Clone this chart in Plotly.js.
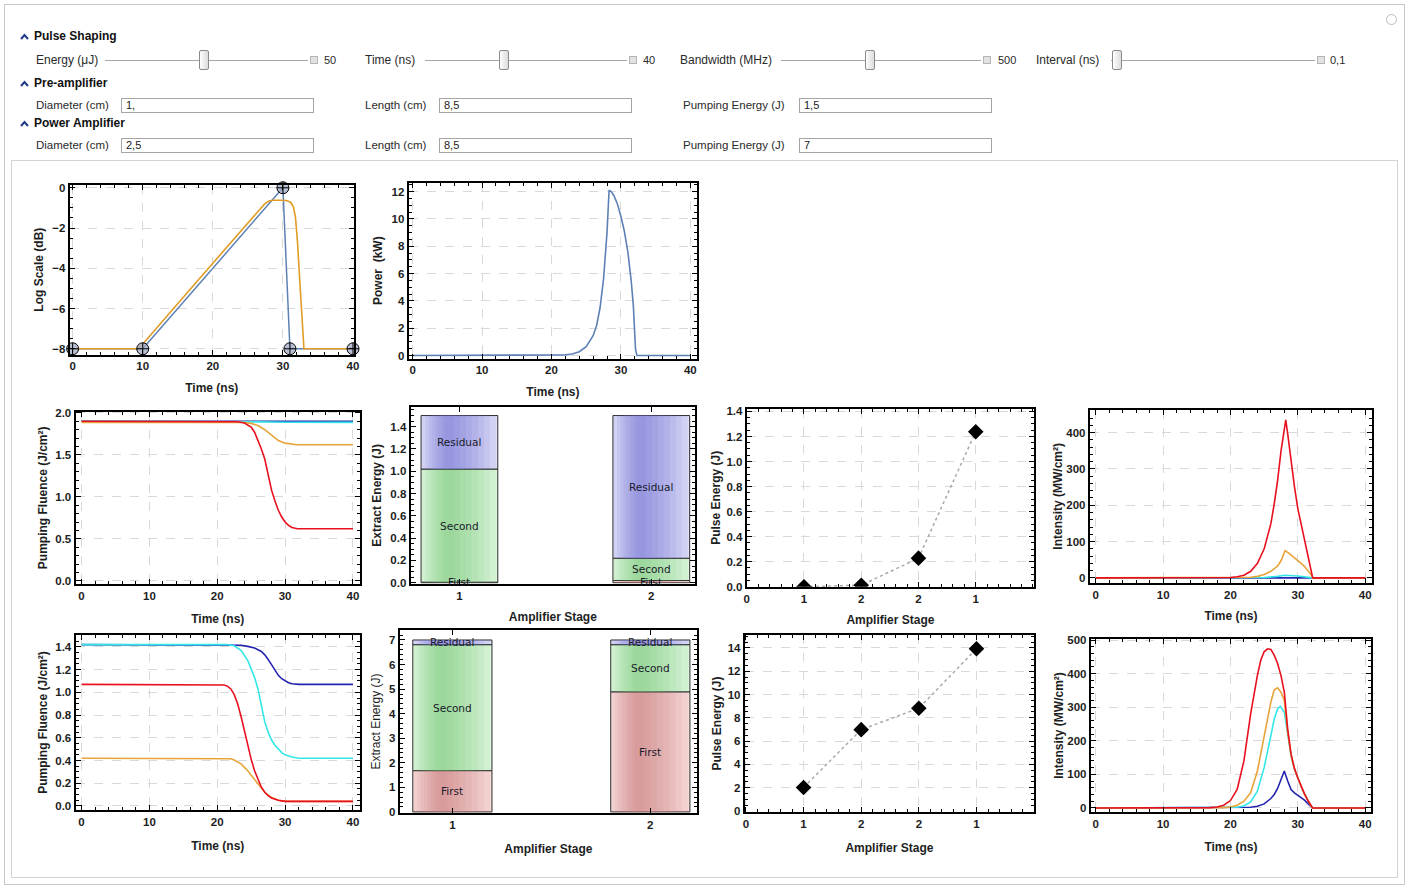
<!DOCTYPE html>
<html><head><meta charset="utf-8">
<script src="https://cdn.plot.ly/plotly-3.0.1.min.js"></script>
<style>
body{margin:0;background:#fff;width:1409px;height:889px;overflow:hidden;position:relative;font-family:"Liberation Sans",Arial,sans-serif;}
#chart{position:absolute;left:0;top:0;width:1409px;height:889px;z-index:1;}
.frame{position:absolute;border:1px solid #c9c9c9;z-index:0;}
.ui{position:absolute;font-size:12px;color:#2a2a2a;white-space:nowrap;line-height:14px;z-index:2;}
.hd{font-weight:bold;color:#111;}
.track{position:absolute;height:1px;background:#a8a8a8;z-index:2;}
.thumb{position:absolute;width:8px;height:18px;border:1px solid #8a8a8a;border-radius:2px;background:linear-gradient(90deg,#fdfdfd,#dcdcdc);z-index:3;}
.sq{position:absolute;width:6px;height:6px;border:1px solid #b5b5b5;background:#e2e2e2;z-index:2;}
.inp{position:absolute;height:13px;border:1px solid #a5a5a5;background:#fff;font-size:11px;line-height:13px;padding-left:4px;color:#222;z-index:2;}
.chev{position:absolute;z-index:2;}
</style></head>
<body>
<div class="frame" style="left:4px;top:4px;width:1399px;height:879px;"></div>
<div class="frame" style="left:11px;top:160px;width:1385px;height:716px;border-color:#d4d4d4"></div>
<div id="chart"></div>
<div id="controls"></div>
<script>
// ---------------- DATA ----------------
// Pulse shaping: control points (dB) and smoothed shape
const shapeTime = [0, 10, 30, 31, 40];
const shapeDb = [-8, -8, 0, -8, -8];
const smoothTime = [0, 9.3, 9.8, 12, 16, 20, 24, 27.4, 28, 28.6, 29.5, 30.5, 31.1, 31.5, 31.8, 32.1, 32.4, 32.7, 33.0, 40];
const smoothDb = [-8, -8, -7.85, -6.95, -5.35, -3.75, -2.15, -0.8, -0.66, -0.62, -0.62, -0.63, -0.72, -0.95, -1.5, -2.8, -4.6, -6.6, -8, -8];
// Input pulse power (kW)
const powerTime = [0, 20, 22, 23, 24, 25, 26, 26.5, 27, 27.5, 28, 28.3, 28.6, 29, 29.5, 30, 30.5, 31, 31.5, 31.8, 32.1, 32.3, 40];
const powerKW = [0, 0.01, 0.05, 0.12, 0.28, 0.65, 1.45, 2.2, 3.5, 5.6, 9.0, 12.1, 12.0, 11.7, 11.1, 10.2, 9.1, 7.6, 5.4, 3.6, 0.5, 0, 0];

// Pre-amplifier pumping fluence (J/cm2)
const preFluBlueT = [0, 40];
const preFluBlue = [1.9, 1.9];
const preFluCyanT = [0, 22, 26, 30, 32, 40];
const preFluCyan = [1.9, 1.9, 1.893, 1.888, 1.887, 1.887];
const preFluOrangeT = [0, 24, 25, 26, 27, 28, 29, 30, 31, 31.7, 40];
const preFluOrange = [1.885, 1.885, 1.875, 1.85, 1.8, 1.73, 1.67, 1.64, 1.625, 1.62, 1.62];
const preFluRedT = [0, 22, 23, 24, 25, 25.5, 26, 26.5, 27, 27.5, 28, 28.5, 29, 29.5, 30, 30.5, 31, 31.8, 40];
const preFluRed = [1.9, 1.9, 1.895, 1.88, 1.83, 1.77, 1.68, 1.57, 1.45, 1.27, 1.08, 0.95, 0.84, 0.76, 0.7, 0.66, 0.635, 0.62, 0.62];

// Stage energy partition (J)
const stageIds = [1, 2];
const stageTicks = ['1', '2'];
const segNames = ['First', 'Second', 'Residual'];
const preFirst = [0.005, 0.02];
const preSecond = [1.015, 0.2];
const preResidual = [0.48, 1.28];
const powFirst = [1.68, 4.89];
const powSecond = [5.13, 1.92];
const powResidual = [0.19, 0.19];

// Pulse energy after each pass (J)
const passIdx = [1, 2, 3, 4];
const passTickVals = [0, 1, 2, 3, 4];
const passTickText = ['0', '1', '2', '2', '1'];
const prePulseEnergy = [0.0, 0.012, 0.228, 1.238];
const powPulseEnergy = [2.02, 6.98, 8.82, 13.93];

// Pre-amplifier intensity (MW/cm2)
const preIntBlueT = [0, 22, 25, 27, 28, 30, 32, 32.2, 40];
const preIntBlue = [0, 0, 0.2, 0.8, 1.5, 1.0, 0.4, 0, 0];
const preIntCyanT = [0, 22, 25, 27, 28, 30, 32, 32.2, 40];
const preIntCyan = [0, 0, 1, 4, 7, 5, 2, 0, 0];
const preIntOrangeT = [0, 20, 22, 23, 24, 25, 26, 27, 27.5, 28, 28.1, 28.5, 29, 29.5, 30, 30.5, 31, 31.5, 32, 32.2, 40];
const preIntOrange = [0, 0, 0.5, 1.5, 4, 9, 18, 33, 47, 70, 75, 70, 63, 56, 48, 40, 31, 20, 8, 0, 0];
const preIntRedT = [0, 19, 20, 21, 22, 23, 24, 25, 26, 26.5, 27, 27.5, 28, 28.2, 28.5, 29, 29.5, 30, 30.5, 31, 31.5, 32, 32.2, 40];
const preIntRed = [0, 0, 1, 3, 7, 18, 40, 80, 150, 205, 270, 350, 420, 435, 395, 320, 250, 190, 145, 100, 60, 15, 0, 0];

// Power amplifier pumping fluence (J/cm2)
const powFluBlueT = [0, 22, 23.5, 24.5, 25.5, 26.5, 27, 27.5, 28, 28.5, 29, 29.5, 30, 30.5, 31, 32, 40];
const powFluBlue = [1.42, 1.42, 1.415, 1.405, 1.39, 1.36, 1.33, 1.29, 1.24, 1.19, 1.15, 1.12, 1.1, 1.085, 1.075, 1.07, 1.07];
const powFluCyanT = [0, 21.5, 22.5, 23.5, 24.5, 25, 25.5, 26, 26.5, 27, 27.5, 28, 28.5, 29, 29.5, 30, 31, 32, 40];
const powFluCyan = [1.42, 1.42, 1.41, 1.37, 1.28, 1.21, 1.13, 1.03, 0.88, 0.74, 0.65, 0.58, 0.535, 0.5, 0.47, 0.45, 0.43, 0.42, 0.42];
const powFluOrangeT = [0, 21, 22, 22.5, 23, 23.5, 24, 24.5, 25, 25.5, 26, 26.5, 27, 27.5, 28, 29, 30, 40];
const powFluOrange = [0.42, 0.42, 0.415, 0.405, 0.39, 0.37, 0.34, 0.31, 0.27, 0.23, 0.19, 0.15, 0.12, 0.095, 0.075, 0.05, 0.04, 0.04];
const powFluRedT = [0, 20, 21, 21.5, 22, 22.5, 23, 23.5, 24, 24.5, 25, 25.5, 26, 26.5, 27, 27.5, 28, 29, 30, 40];
const powFluRed = [1.07, 1.07, 1.065, 1.055, 1.03, 0.98, 0.9, 0.79, 0.66, 0.53, 0.41, 0.31, 0.23, 0.165, 0.12, 0.09, 0.07, 0.05, 0.04, 0.04];

// Power amplifier intensity (MW/cm2)
const powIntBlueT = [0, 20, 21, 22, 23, 24, 25, 26, 26.5, 27, 27.5, 28, 28.5, 29, 29.5, 30, 30.5, 31, 31.5, 32, 32.2, 40];
const powIntBlue = [0, 0, 0.5, 1, 2, 5, 12, 28, 40, 58, 82, 110, 80, 55, 45, 38, 31, 23, 13, 4, 0, 0];
const powIntCyanT = [0, 20, 21, 22, 23, 24, 25, 26, 26.5, 27, 27.4, 28, 28.5, 29, 29.5, 30, 30.5, 31, 31.5, 32, 32.2, 40];
const powIntCyan = [0, 0.5, 2, 6, 18, 50, 120, 215, 265, 295, 303, 285, 215, 155, 116, 88, 63, 41, 21, 5, 0, 0];
const powIntOrangeT = [0, 18, 19, 20, 21, 22, 23, 24, 25, 25.5, 26, 26.5, 27, 27.5, 28, 28.5, 29, 29.5, 30, 30.5, 31, 31.5, 32, 32.2, 40];
const powIntOrange = [0, 0, 1, 3, 8, 20, 45, 110, 210, 260, 315, 352, 358, 345, 320, 225, 158, 116, 88, 63, 41, 21, 5, 0, 0];
const powIntRedT = [0, 16, 17, 18, 19, 20, 21, 22, 23, 24, 24.5, 25, 25.5, 26, 26.5, 27, 27.5, 28, 28.5, 29, 29.5, 30, 30.5, 31, 31.5, 32, 32.2, 40];
const powIntRed = [0, 0, 1, 3, 8, 22, 55, 140, 280, 395, 440, 465, 474, 472, 455, 430, 395, 345, 235, 160, 118, 90, 65, 42, 22, 5, 0, 0];

// ---------------- CONTROLS (UI text) ----------------
const sections = [['Pulse Shaping', 24, 36], ['Pre-amplifier', 24, 83], ['Power Amplifier', 24, 123]];
const sliderLabels = ['Energy (\u03bcJ)', 'Time (ns)', 'Bandwidth (MHz)', 'Interval (ns)'];
const sliderValues = ['50', '40', '500', '0,1'];
const fieldLabels = ['Diameter (cm)', 'Length (cm)', 'Pumping Energy (J)'];
const preFieldValues = ['1,', '8,5', '1,5'];
const powFieldValues = ['2,5', '8,5', '7'];

(function buildControls(){
  const c = document.getElementById('controls');
  let h = '';
  sections.forEach(s => {
    h += `<svg class="chev" style="left:${s[1]-4}px;top:${s[2]-3}px" width="9" height="7"><polyline points="1,6 4.5,2 8,6" fill="none" stroke="#1f3c86" stroke-width="2"/></svg>`;
    h += `<div class="ui hd" style="left:${s[1]+10}px;top:${s[2]-7}px">${s[0]}</div>`;
  });
  const sl = [[36,105,204,314,324],[365,425,504,633,643],[680,781,870,987,998],[1036,1111,1117,1321,1330]];
  sl.forEach((p,i) => {
    h += `<div class="ui" style="left:${p[0]}px;top:53px">${sliderLabels[i]}</div>`;
    h += `<div class="track" style="left:${p[1]}px;top:60px;width:${p[3]-p[1]-6}px"></div>`;
    h += `<div class="thumb" style="left:${p[2]-5}px;top:50px"></div>`;
    h += `<div class="sq" style="left:${p[3]-4}px;top:56px"></div>`;
    h += `<div class="ui" style="left:${p[4]}px;top:53px;font-size:11px">${sliderValues[i]}</div>`;
  });
  const fl = [[36,121],[365,439],[683,799]];
  [[preFieldValues,98],[powFieldValues,138]].forEach(r => {
    fl.forEach((p,i) => {
      h += `<div class="ui" style="left:${p[0]}px;top:${r[1]}px;font-size:11.5px">${fieldLabels[i]}</div>`;
      h += `<div class="inp" style="left:${p[1]}px;top:${r[1]}px;width:187px">${r[0][i]}</div>`;
    });
  });
  h += `<div style="position:absolute;left:1386px;top:14px;width:9px;height:9px;border:1px solid #bbb;border-radius:50%;z-index:2;"></div>`;
  c.innerHTML = h;
})();

// ---------------- CHART ----------------
const W = 1409, H = 889;
const C_BLUE = '#5e81b5', C_ORANGE = '#e19c24';
const K_BLUE = '#2424b0', K_CYAN = '#35e6e6', K_ORANGE = '#e6a43a', K_RED = '#e8101e';
// segment colours: light base and darker shading stripe
const SEG_BASE = ['#f8dcdc', '#dcf5dc', '#dedef7'];
const SEG_SHADE = ['rgba(200,115,115,0.11)', 'rgba(115,200,115,0.11)', 'rgba(115,115,210,0.12)'];
const SHADE_STEPS = [1, 0.875, 0.75, 0.625, 0.5, 0.375, 0.25, 0.125];

const boxes = {1:[67,353,182,354],2:[408,698,180,358],3:[73,359,412,586],4:[410,696,407,586],5:[748,1037,409,589],
  6:[1093,1377,410,585],7:[73,359,638,815],8:[399,698,633,818],9:[746,1037,638,817],10:[1094,1376,642,817]};

const tickFont = {family:'Liberation Sans, Arial, sans-serif', size:11.5, color:'#1e1e1e', weight:'bold'};
function ttl(text, weight, standoff){
  return {text:text, standoff:standoff, font:{family:'Liberation Sans, Arial, sans-serif', size:12, color:'#1e1e1e', weight:weight||'bold'}};
}
function axis(extra){
  return Object.assign({showline:true, mirror:'allticks', linecolor:'#000', linewidth:2, ticks:'inside', ticklen:5,
    tickwidth:1, tickcolor:'#000', tickfont:tickFont, zeroline:false, showgrid:true, gridcolor:'#d9d9d9',
    griddash:'dash', gridwidth:1, fixedrange:true, automargin:true}, extra);
}
const layout = {width:W, height:H, margin:{l:0,r:0,t:0,b:0}, paper_bgcolor:'rgba(0,0,0,0)', plot_bgcolor:'#fff',
  showlegend:false, barmode:'overlay', hovermode:false, annotations:[],
  font:{family:'Liberation Sans, Arial, sans-serif'}};

const minorT = (d) => ({dtick:d, ticks:'inside', ticklen:3, tickcolor:'#000'});
function place(n, xo, yo){
  const b = boxes[n];
  const xs = n===1?'':n;
  layout['xaxis'+xs] = axis(Object.assign({domain:[b[0]/W, b[1]/W], anchor:'y'+xs}, xo));
  layout['yaxis'+xs] = axis(Object.assign({domain:[1-b[3]/H, 1-b[2]/H], anchor:'x'+xs}, yo));
}
const timeX = (r, so) => ({range:r, tick0:0, dtick:10, minor:minorT(2), title:ttl('Time (ns)','bold',so)});
place(1, timeX([-0.43,40.14],12), {range:[-8.29,0.15], tick0:0, dtick:2, minor:minorT(0.5), title:ttl('Log Scale (dB)','bold',6)});
place(2, timeX([-0.57,40.97],12), {range:[-0.22,12.65], tick0:0, dtick:2, minor:minorT(0.5), title:ttl('Power  (kW)','bold',6)});
place(3, timeX([-0.88,41.03],14), {range:[-0.035,2.012], tick0:0, dtick:0.5, tickformat:'.1f', minor:minorT(0.1), title:ttl('Pumping Fluence (J/cm\u00b2)','bold',5)});
place(4, {range:[0.746,2.228], tickvals:stageIds, ticktext:stageTicks, showgrid:false, title:ttl('Amplifier Stage','bold',12)},
  {range:[-0.009,1.577], tick0:0, dtick:0.2, tickformat:'.1f', showgrid:false, minor:minorT(0.05), title:ttl('Extract Energy (J)','bold',6)});
place(5, {range:[0,5.02], tickvals:passTickVals, ticktext:passTickText, minor:minorT(0.2), title:ttl('Amplifier Stage','bold',12)},
  {range:[0,1.42], tick0:0, dtick:0.2, tickformat:'.1f', minor:minorT(0.05), title:ttl('Pulse Energy (J)','bold',3)});
place(6, timeX([-0.89,41.03],12), {range:[-13.6,462.6], tick0:0, dtick:100, minor:minorT(20), title:ttl('Intensity (MW/cm\u00b2)','bold',1)});
place(7, timeX([-0.88,41.03],15), {range:[-0.035,1.504], tick0:0, dtick:0.2, tickformat:'.1f', minor:minorT(0.05), title:ttl('Pumping Fluence (J/cm\u00b2)','bold',5)});
place(8, {range:[0.734,2.236], tickvals:stageIds, ticktext:stageTicks, showgrid:false, title:ttl('Amplifier Stage','bold',15)},
  {range:[-0.04,7.4], tick0:0, dtick:1, showgrid:false, minor:minorT(0.2), title:ttl('Extract Energy (J)','normal',6)});
place(9, {range:[-0.02,5.0], tickvals:passTickVals, ticktext:passTickText, minor:minorT(0.2), title:ttl('Amplifier Stage','bold',15)},
  {range:[-0.08,15.1], tick0:0, dtick:2, minor:minorT(0.5), title:ttl('Pulse Energy (J)','bold',3)});
place(10, timeX([-0.74,40.9],14), {range:[-11.8,503], tick0:0, dtick:100, minor:minorT(20), title:ttl('Intensity (MW/cm\u00b2)','bold',1)});

function ln(n, x, y, color, w){
  const s = n===1?'':n;
  return {type:'scatter', mode:'lines', x:x, y:y, xaxis:'x'+s, yaxis:'y'+s, line:{color:color, width:w||1.6}, hoverinfo:'skip'};
}
// stacked segments drawn with a soft shaded stripe; labels as annotations at segment centres
function bars(n, segs){
  const out = [];
  const bases = segs.map((v,j) => v.map((_,i) => segs.slice(0,j).reduce((a,s)=>a+s[i],0)));
  segs.forEach((v,j) => {
    out.push({type:'bar', x:stageIds, y:v, base:bases[j], xaxis:'x'+n, yaxis:'y'+n, width:0.4,
      marker:{color:SEG_BASE[j], line:{color:'#2b2b2b', width:1}}, hoverinfo:'skip'});
    SHADE_STEPS.forEach(s => {
      out.push({type:'bar', x:stageIds, y:v, base:bases[j], xaxis:'x'+n, yaxis:'y'+n, width:0.385*s,
        offset:-0.06-0.135*s, marker:{color:SEG_SHADE[j], line:{width:0}}, hoverinfo:'skip'});
    });
    v.forEach((val,i) => {
      layout.annotations.push({xref:'x'+n, yref:'y'+n, x:stageIds[i], y:bases[j][i]+val/2, text:segNames[j],
        showarrow:false, font:{size:10.5, color:'#1a1a2a', family:'DejaVu Sans, sans-serif'}});
    });
  });
  return out;
}
function pulses(n, y){
  return {type:'scatter', mode:'lines+markers', x:passIdx, y:y, xaxis:'x'+n, yaxis:'y'+n,
    line:{color:'#a8a8a8', width:1.5, dash:'dot'}, marker:{symbol:'diamond', size:12, color:'#000'}, hoverinfo:'skip'};
}

const data = [
  ln(1, shapeTime, shapeDb, C_BLUE, 1.5),
  ln(1, smoothTime, smoothDb, C_ORANGE, 1.6),
  {type:'scatter', mode:'markers', x:shapeTime, y:shapeDb, xaxis:'x', yaxis:'y', cliponaxis:false,
    marker:{symbol:'circle-cross', size:12, color:'rgba(160,170,195,0.75)', line:{color:'#000', width:1}}, hoverinfo:'skip'},
  ln(2, powerTime, powerKW, C_BLUE, 1.6),
  ln(3, preFluBlueT, preFluBlue, K_BLUE), ln(3, preFluCyanT, preFluCyan, K_CYAN),
  ln(3, preFluOrangeT, preFluOrange, K_ORANGE), ln(3, preFluRedT, preFluRed, K_RED),
  ...bars(4, [preFirst, preSecond, preResidual]),
  pulses(5, prePulseEnergy),
  ln(6, preIntBlueT, preIntBlue, K_BLUE), ln(6, preIntCyanT, preIntCyan, K_CYAN),
  ln(6, preIntOrangeT, preIntOrange, K_ORANGE), ln(6, preIntRedT, preIntRed, K_RED),
  ln(7, powFluBlueT, powFluBlue, K_BLUE), ln(7, powFluCyanT, powFluCyan, K_CYAN),
  ln(7, powFluOrangeT, powFluOrange, K_ORANGE), ln(7, powFluRedT, powFluRed, K_RED),
  ...bars(8, [powFirst, powSecond, powResidual]),
  pulses(9, powPulseEnergy),
  ln(10, powIntBlueT, powIntBlue, K_BLUE), ln(10, powIntCyanT, powIntCyan, K_CYAN),
  ln(10, powIntOrangeT, powIntOrange, K_ORANGE), ln(10, powIntRedT, powIntRed, K_RED)
];

Plotly.newPlot('chart', data, layout, {staticPlot:true, displayModeBar:false});
</script>
</body></html>
